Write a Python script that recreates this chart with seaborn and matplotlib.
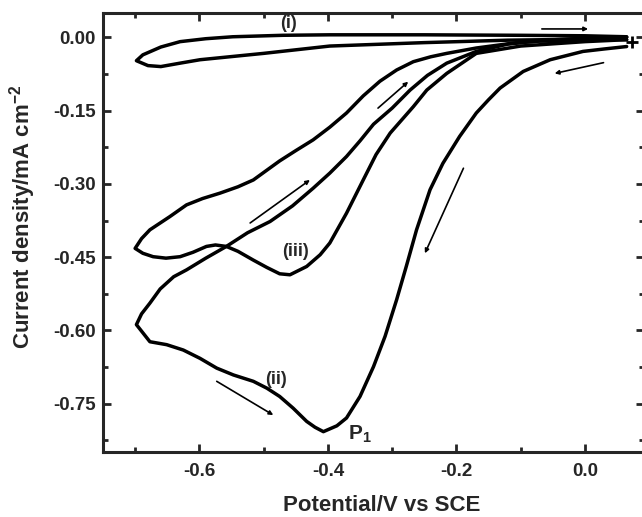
import numpy as np
import matplotlib
matplotlib.use('Agg')
import matplotlib.pyplot as plt
import seaborn as sns
from matplotlib.ticker import MultipleLocator, FormatStrFormatter

# curve (i)
curve_i_v = [0.065, 0.0, -0.12, -0.25, -0.397, -0.50, -0.599, -0.630, -0.660, -0.680, -0.698,
             -0.688, -0.660, -0.630, -0.590, -0.548, -0.470, -0.397, -0.25, -0.10, 0.0, 0.065]
curve_i_j = [-0.005, -0.004, -0.006, -0.011, -0.018, -0.033, -0.046, -0.053, -0.060, -0.058, -0.048,
             -0.036, -0.020, -0.009, -0.003, 0.001, 0.004, 0.005, 0.005, 0.004, 0.003, 0.001]

# curve (ii)
curve_ii_v = [0.065, 0.03, -0.003, -0.054, -0.096, -0.132, -0.150, -0.169, -0.195, -0.221, -0.241,
              -0.262, -0.278, -0.293, -0.311, -0.329, -0.350, -0.371, -0.386, -0.407, -0.420, -0.433,
              -0.454, -0.475, -0.495, -0.516, -0.547, -0.573, -0.599, -0.625, -0.651, -0.677, -0.698,
              -0.690, -0.677, -0.661, -0.640, -0.620, -0.590, -0.558, -0.525, -0.490, -0.455, -0.423,
              -0.397, -0.371, -0.350, -0.329, -0.300, -0.272, -0.245, -0.215, -0.169, -0.12, -0.06,
              0.0, 0.065]
curve_ii_j = [-0.019, -0.024, -0.029, -0.046, -0.070, -0.104, -0.128, -0.155, -0.203, -0.258, -0.312,
              -0.394, -0.469, -0.537, -0.612, -0.674, -0.735, -0.779, -0.795, -0.807, -0.798, -0.786,
              -0.759, -0.735, -0.718, -0.704, -0.691, -0.677, -0.657, -0.640, -0.629, -0.623, -0.588,
              -0.566, -0.544, -0.515, -0.490, -0.476, -0.452, -0.428, -0.400, -0.377, -0.345, -0.309,
              -0.278, -0.244, -0.212, -0.178, -0.145, -0.108, -0.078, -0.053, -0.029, -0.014, -0.006,
              -0.002, 0.0]

# curve (iii)
curve_iii_v = [0.065, 0.0, -0.10, -0.169, -0.215, -0.246, -0.267, -0.303, -0.325, -0.345, -0.371,
               -0.397, -0.412, -0.433, -0.459, -0.475, -0.495, -0.516, -0.540, -0.558, -0.575, -0.589,
               -0.610, -0.630, -0.652, -0.672, -0.688, -0.700, -0.690, -0.677, -0.646, -0.620, -0.595,
               -0.568, -0.540, -0.516, -0.495, -0.475, -0.450, -0.423, -0.397, -0.371, -0.345, -0.319,
               -0.293, -0.267, -0.240, -0.215, -0.169, -0.10, 0.0, 0.065]
curve_iii_j = [-0.005, -0.009, -0.018, -0.033, -0.074, -0.108, -0.142, -0.196, -0.240, -0.292, -0.360,
               -0.421, -0.445, -0.469, -0.486, -0.484, -0.471, -0.456, -0.438, -0.428, -0.425, -0.428,
               -0.440, -0.449, -0.452, -0.449, -0.442, -0.432, -0.412, -0.394, -0.367, -0.343, -0.330,
               -0.319, -0.306, -0.292, -0.272, -0.253, -0.232, -0.210, -0.184, -0.155, -0.120, -0.090,
               -0.067, -0.050, -0.040, -0.033, -0.022, -0.010, -0.003, 0.0]

# scan direction arrows (tail, head)
arrow_tails = [(-0.067, 0.017), (0.029, -0.052), (-0.189, -0.268), (-0.322, -0.145),
               (-0.521, -0.380), (-0.573, -0.704)]
arrow_heads = [(0.005, 0.017), (-0.047, -0.074), (-0.249, -0.442), (-0.275, -0.091),
               (-0.428, -0.292), (-0.485, -0.773)]

curve_labels = ['(i)', '(ii)', '(iii)']
label_pos = [(-0.462, 0.029), (-0.480, -0.701), (-0.451, -0.439)]
start_point = (0.073, -0.009)

x_ticks = [-0.6, -0.4, -0.2, 0.0]
y_ticks = [0.0, -0.15, -0.30, -0.45, -0.60, -0.75]

sns.set_style('ticks')
plt.rcParams['font.family'] = ['Liberation Sans', 'DejaVu Sans']
plt.rcParams['font.weight'] = 'bold'
plt.rcParams['axes.unicode_minus'] = False
plt.rcParams['mathtext.fontset'] = 'custom'
plt.rcParams['mathtext.rm'] = 'Liberation Sans:bold'
plt.rcParams['mathtext.it'] = 'Liberation Sans:bold'
plt.rcParams['mathtext.bf'] = 'Liberation Sans:bold'
plt.rcParams['mathtext.default'] = 'rm'

fig = plt.figure(figsize=(6.42, 5.17), dpi=100)
ax = fig.add_axes([103 / 642, 1 - 451.7 / 517, (644 - 103) / 642, (451.7 - 13.3) / 517])

for v, j in [(curve_i_v, curve_i_j), (curve_ii_v, curve_ii_j), (curve_iii_v, curve_iii_j)]:
    sns.lineplot(x=v, y=j, sort=False, estimator=None, color='black', lw=2.5,
                 solid_joinstyle='round', solid_capstyle='round', ax=ax)

ax.plot([start_point[0]], [start_point[1]], marker='+', color='black', ms=9, mew=2)

for t, h in zip(arrow_tails, arrow_heads):
    ax.annotate('', xy=h, xytext=t,
                arrowprops=dict(arrowstyle='-|>', color='black', lw=1.2,
                                mutation_scale=6, shrinkA=0, shrinkB=0))

for lab, (x, y) in zip(curve_labels, label_pos):
    ax.text(x, y, lab, ha='center', va='center', fontsize=13, fontweight='bold')
ax.text(-0.368, -0.824, 'P$_1$', ha='left', va='baseline', fontsize=15, fontweight='bold')

ax.set_xlim(-0.75, 0.092)
ax.set_ylim(-0.848, 0.049)
ax.set_xticks(x_ticks)
ax.set_yticks(y_ticks)
ax.xaxis.set_minor_locator(MultipleLocator(0.1))
ax.yaxis.set_minor_locator(MultipleLocator(0.075))
ax.xaxis.set_major_formatter(FormatStrFormatter('%.1f'))
ax.yaxis.set_major_formatter(FormatStrFormatter('%.2f'))
ax.tick_params(which='both', direction='in', top=True, right=True, width=2, labelsize=13.5)
ax.tick_params(which='major', length=6)
ax.tick_params(which='minor', length=3.5)
ax.tick_params(axis='x', pad=8)
ax.tick_params(axis='y', pad=5)
for s in ax.spines.values():
    s.set_linewidth(2.2)

ax.set_xlabel('Potential/V vs SCE', fontsize=16, fontweight='bold')
ax.set_ylabel('Current density/mA cm$^{-2}$', fontsize=16, fontweight='bold')
ax.xaxis.set_label_coords(0.516, -0.099)
ax.yaxis.set_label_coords(-0.120, 0.535)

fig.savefig('out.png', dpi=100)
